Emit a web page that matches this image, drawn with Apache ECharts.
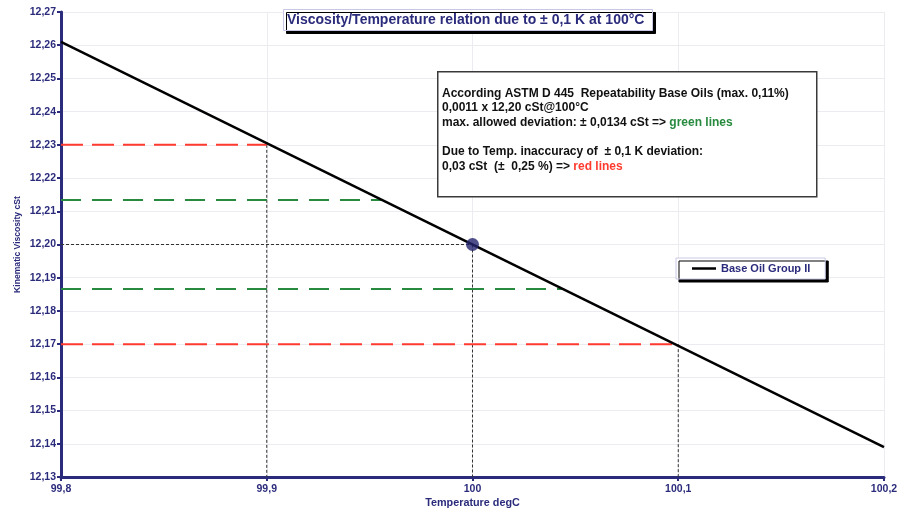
<!DOCTYPE html>
<html>
<head>
<meta charset="utf-8">
<script src="https://cdn.jsdelivr.net/npm/echarts@6/dist/echarts.min.js"></script>
<style>html,body{margin:0;padding:0;background:#fff}#c{width:908px;height:509px}</style>
</head>
<body>
<div id="c"></div>
<script>
// Data
var xTicks = [99.8, 99.9, 100, 100.1, 100.2];
var mainLine = [[99.8, 12.261], [100.2, 12.139]];
var redUpper = [[99.8, 12.23], [99.9, 12.23]];
var redLower = [[99.8, 12.17], [100.1, 12.17]];
var greenUpper = [[99.8, 12.2134], [99.9565, 12.2134]];
var greenLower = [[99.8, 12.1866], [100.0445, 12.1866]];
var dropV1 = [[99.9, 12.23], [99.9, 12.13]];
var dropV2 = [[100, 12.20], [100, 12.13]];
var dropV3 = [[100.1, 12.17], [100.1, 12.13]];
var dropH = [[99.8, 12.20], [100, 12.20]];
var refPoint = [[100, 12.20]];

var NAVY = '#2b2b7c';
var FONT = '"Liberation Sans", Arial, Helvetica, sans-serif';

function comma(v, d) { return v.toFixed(d).replace('.', ','); }

function seg(data, color, width, dash, z) {
  return { type: 'line', data: data, symbol: 'none', silent: true, z: z || 2,
    lineStyle: { color: color, width: width, type: dash, cap: 'butt' } };
}

var chart = echarts.init(document.getElementById('c'));
chart.setOption({
  animation: false,
  backgroundColor: '#fff',
  textStyle: { fontFamily: FONT },
  title: {
    text: 'Viscosity/Temperature relation due to \u00b1 0,1 K at 100\u00b0C',
    left: 283, top: 9,
    padding: [4, 8, 4, 4],
    backgroundColor: '#fff',
    borderColor: '#c8c8e6', borderWidth: 1,
    shadowColor: '#000', shadowOffsetX: 3, shadowOffsetY: 3, shadowBlur: 0,
    textStyle: { color: NAVY, fontSize: 14, fontWeight: 'bold', fontFamily: FONT, lineHeight: 14 }
  },
  legend: {
    data: [{ name: 'Base Oil Group II', icon: 'rect' }],
    left: 676, top: 258,
    padding: [5, 15, 5, 16],
    itemWidth: 24, itemHeight: 2.5, itemGap: 4,
    backgroundColor: '#fff',
    borderColor: '#c8c8e6', borderWidth: 1,
    shadowColor: '#000', shadowOffsetX: 3, shadowOffsetY: 3, shadowBlur: 0,
    textStyle: { color: NAVY, fontSize: 11, fontWeight: 'bold', fontFamily: FONT, lineHeight: 11 }
  },
  grid: { left: 61, right: 24, top: 12, bottom: 32, outerBoundsMode: 'none', containLabel: false },
  xAxis: {
    type: 'value', min: 99.8, max: 100.2, interval: 0.1,
    name: 'Temperature degC', nameLocation: 'middle', nameGap: 21, nameMoveOverlap: false,
    nameTextStyle: { color: NAVY, fontSize: 10.8, fontWeight: 'bold' },
    axisLine: { show: true, lineStyle: { color: NAVY, width: 3 } },
    axisTick: { show: true, length: 4, lineStyle: { color: NAVY, width: 2 } },
    axisLabel: { color: NAVY, fontSize: 10.5, fontWeight: 'bold', margin: 7,
      formatter: function (v) { var r = Math.round(v * 10) / 10; return (r % 1 === 0) ? String(r) : comma(r, 1); } },
    splitLine: { show: true, lineStyle: { color: '#ebebf0', width: 1 } }
  },
  yAxis: {
    type: 'value', min: 12.13, max: 12.27, interval: 0.01,
    name: 'Kinematic Viscosity cSt', nameLocation: 'middle', nameGap: 39, nameMoveOverlap: false,
    nameTextStyle: { color: NAVY, fontSize: 8.6, fontWeight: 'bold' },
    axisLine: { show: true, lineStyle: { color: NAVY, width: 3 } },
    axisTick: { show: true, length: 4, lineStyle: { color: NAVY, width: 2 } },
    axisLabel: { color: NAVY, fontSize: 10.5, fontWeight: 'bold', margin: 5,
      formatter: function (v) { return comma(v, 2); } },
    splitLine: { show: true, lineStyle: { color: '#ebebf0', width: 1 } }
  },
  series: [
    seg(dropV1, '#333', 1, [3, 2], 2),
    seg(dropV2, '#333', 1, [3, 2], 2),
    seg(dropV3, '#333', 1, [3, 2], 2),
    seg(dropH, '#333', 1, [3, 2], 2),
    seg(redUpper, '#ff3b2f', 2, [22, 9], 3),
    seg(redLower, '#ff3b2f', 2, [22, 9], 3),
    seg(greenUpper, '#278a3e', 2, [20, 11], 3),
    seg(greenLower, '#278a3e', 2, [20, 11], 3),
    { name: 'Base Oil Group II', type: 'line', data: mainLine, symbol: 'none', z: 4,
      lineStyle: { color: '#000', width: 2.5 }, itemStyle: { color: '#000' } },
    { type: 'scatter', data: refPoint, symbolSize: 13, z: 5,
      itemStyle: { color: '#23236e' } }
  ],
  graphic: [
    { type: 'rect', left: 437, top: 71, z: 10,
      shape: { width: 379, height: 125 },
      style: { fill: '#fff', stroke: '#3a3a3a', lineWidth: 1.5 } },
    { type: 'text', left: 442, top: 86, z: 11,
      style: {
        text: 'According ASTM D 445  Repeatability Base Oils (max. 0,11%)\n' +
              '0,0011 x 12,20 cSt@100\u00b0C\n' +
              'max. allowed deviation: \u00b1 0,0134 cSt => {g|green lines}\n' +
              '\n' +
              'Due to Temp. inaccuracy of  \u00b1 0,1 K deviation:\n' +
              '0,03 cSt  (\u00b1  0,25 %) => {r|red lines}',
        font: 'bold 12px ' + FONT,
        fill: '#111',
        lineHeight: 14.6,
        rich: {
          g: { fill: '#278a3e', font: 'bold 12px ' + FONT, lineHeight: 14.6 },
          r: { fill: '#ff3b2f', font: 'bold 12px ' + FONT, lineHeight: 14.6 }
        }
      } }
  ]
});
</script>
</body>
</html>
